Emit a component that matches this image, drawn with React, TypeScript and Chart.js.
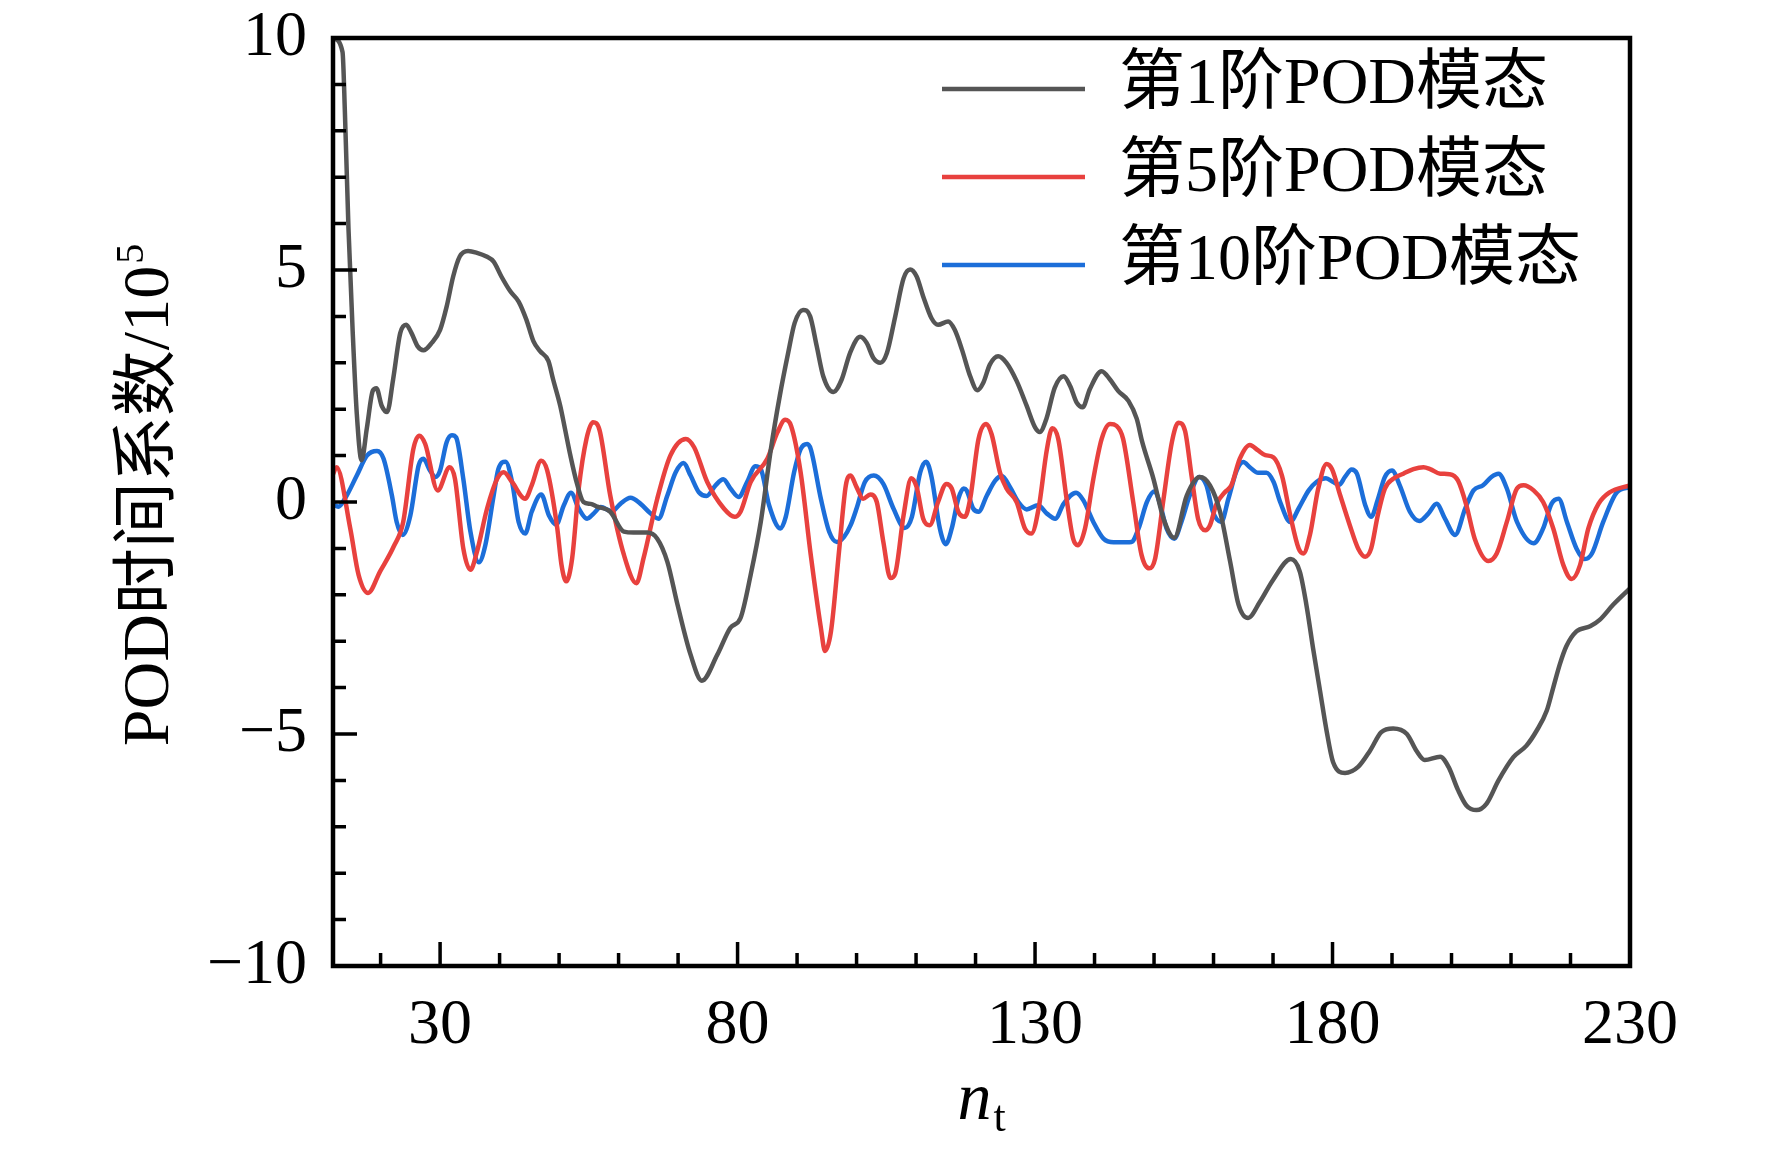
import { useEffect, useRef } from 'react'
import { Chart, registerables, type ChartConfiguration, type Plugin } from 'chart.js'

Chart.register(...registerables)

const seriesLabels = ['第1阶POD模态', '第5阶POD模态', '第10阶POD模态']
const seriesColors = ['#555555', '#e8413e', '#1c6ed9']
const xTickValues = [30, 80, 130, 180, 230]
const yTickValues = [-10, -5, 0, 5, 10]

// 第1阶
const mode1X = [
  12, 13.6, 14, 14.6, 15.3, 16, 16.8, 17.7, 18.7, 19.3, 20.2, 21.1, 22.1, 23.3, 24.3, 25.2, 26.2, 27.2,
  28.6, 30, 31.1, 32.2, 33.3, 34.7, 36.2, 37.8, 39, 40.3, 41.8, 43.2, 44.5, 45.7, 46.8, 48.2, 49, 50.2,
  51, 51.9, 53, 54.1, 55.3, 56.4, 58.6, 60.9, 62.5, 64.8, 66.5, 68.2, 69.9, 72.1, 74, 76.6, 78.8, 80.5,
  82.2, 83.9, 85.6, 87.1, 88.5, 89.6, 91, 92.2, 93.3, 94.4, 96.1, 97.5, 98.9, 100.6, 101.7, 102.8, 104,
  105.1, 106.5, 107.9, 109, 110.1, 111.2, 112.6, 113.7, 115.4, 116.5, 117.7, 119.1, 120.3, 121.3, 122.4,
  123.8, 125.2, 126.9, 128.6, 130, 130.8, 131.9, 133.3, 134.8, 135.9, 137, 138, 139.2, 141.2, 142.6, 144,
  145.7, 147.1, 148, 149.9, 151.6, 153.4, 155.5, 157.7, 159.4, 161.1, 162.8, 164.2, 165.8, 167.8, 170,
  173, 174.5, 175.6, 176.8, 177.9, 179, 180.1, 182.1, 184.3, 186.3, 188.2, 190.2, 192.5, 194.1, 195.5,
  198.1, 199.5, 201.1, 202.5, 204.2, 205.9, 207.9, 210.4, 212.6, 214.3, 216, 217.1, 218.2, 219.3, 221,
  223.3, 224.9, 227.2, 230,
]
const mode1Y = [
  10, 9.7, 8.4, 5.9, 3.7, 1.9, 0.9, 1.6, 2.4, 2.45, 2.07, 1.94, 2.64, 3.64, 3.82, 3.64, 3.36, 3.27,
  3.43, 3.71, 4.21, 4.86, 5.29, 5.41, 5.37, 5.29, 5.18, 4.86, 4.54, 4.32, 3.93, 3.46, 3.25, 3.04, 2.64, 2.07,
  1.57, 1.0, 0.4, 0.0, -0.04, -0.1, -0.21, -0.64, -0.66, -0.66, -0.79, -1.29, -2.21, -3.29, -3.85, -3.29, -2.71, -2.5,
  -1.57, -0.43, 1.14, 2.29, 3.21, 3.86, 4.14, 4.0, 3.36, 2.71, 2.37, 2.64, 3.21, 3.56, 3.43, 3.11, 3.0,
  3.21, 4.0, 4.82, 5.01, 4.86, 4.43, 3.96, 3.82, 3.89, 3.71, 3.29, 2.71, 2.41, 2.57, 2.96,
  3.14, 3.0, 2.61, 2.07, 1.61, 1.51, 1.79, 2.46, 2.71, 2.5, 2.14, 2.04, 2.43, 2.82, 2.64, 2.39,
  2.18, 1.79, 1.3, 0.5, -0.36, -0.77, 0.14, 0.54, 0.36, -0.21, -1.29, -2.21, -2.5, -2.15, -1.68,
  -1.23, -1.5, -2.21, -3.21, -4.07, -4.93, -5.61, -5.84, -5.71, -5.36, -4.96, -4.88, -5.0, -5.36, -5.56,
  -5.49, -5.71, -6.21, -6.54, -6.64, -6.5, -6.0, -5.5, -5.25, -4.93, -4.5, -4.0, -3.5, -3.11, -2.79,
  -2.68, -2.54, -2.21, -1.86,
]

// 第5阶
const mode5X = [
  12, 12.6, 14.9, 16.3, 17.9, 19.9, 22.2, 23.8, 25.5, 26.5, 27.5, 29.6, 31.6, 32.5, 33.9, 35.1, 36.2,
  37.9, 39.6, 40.7, 42.1, 44.3, 45.4, 47, 48, 49.7, 50.4, 51.2, 52.2, 53.3, 54.6, 55.7, 56.8, 58.6, 60.9,
  63, 64.2, 66.5, 68.7, 71.3, 72.7, 74.9, 77.7, 79.5, 80.5, 82.2, 85, 86.7, 88, 89, 90.6, 92.3, 94, 94.7,
  95.7, 97.1, 98.2, 99, 100, 101.1, 102.3, 103.4, 104.5, 105.7, 106.5, 107.9, 109.2, 110.1, 111.2, 112.3,
  113.7, 115.1, 116, 117.1, 118.2, 119.1, 120.5, 121.8, 122.7, 124.1, 125.2, 126.9, 128.3, 129.4, 130.6,
  132, 132.9, 133.9, 135.3, 136.4, 137.2, 138.4, 139.8, 141.2, 142.6, 143.7, 144.8, 146.5, 147.9, 149.2,
  150.2, 151.6, 153, 154.1, 155.2, 156.3, 157.4, 158.6, 159.4, 160.5, 161.9, 163, 164.4, 166.1, 167.5,
  168.7, 170.1, 171.5, 172.9, 174.3, 175.1, 176.2, 177.6, 179, 179.9, 181.3, 182.9, 184.3, 185.5, 186.5,
  187.6, 188.8, 190.2, 191.9, 193.6, 195.3, 196.4, 198.1, 199.7, 201.1, 202.5, 203.9, 206.2, 207.6, 209.3,
  211, 212.1, 213.8, 215.4, 217.1, 218.8, 220.2, 221.6, 223, 224.7, 226.6, 230,
]
const mode5Y = [
  0.6, 0.75, -0.57, -1.57, -1.96, -1.5, -0.96, -0.43, 1.14, 1.43, 1.25, 0.25, 0.75, 0.5, -1.0, -1.46, -1.07,
  -0.14, 0.5, 0.64, 0.43, 0.07, 0.36, 0.89, 0.68, -0.57, -1.35, -1.71, -1.21, 0.29, 1.36, 1.72, 1.55, 0.14, -1.14,
  -1.75, -1.21, 0.07, 1.0, 1.36, 1.18, 0.43, -0.14, -0.32, -0.21, 0.43, 0.93, 1.5, 1.77, 1.64, 0.64, -1.14, -2.71, -3.21,
  -2.79, -1.0, 0.36, 0.57, 0.32, 0.07, 0.16, 0.0, -0.86, -1.64, -1.54, -0.29, 0.51, 0.32, -0.36, -0.5,
  0.0, 0.39, 0.29, -0.21, -0.32, 0.07, 1.36, 1.68, 1.46, 0.64, 0.29, 0.0, -0.57, -0.68, -0.14,
  1.14, 1.59, 1.36, 0.07, -0.79, -0.93, -0.57, 0.5, 1.36, 1.68, 1.64, 1.36, 0.0, -1.14, -1.43,
  -1.21, 0.07, 1.29, 1.71, 1.54, 0.57, -0.36, -0.61, -0.5, -0.04, 0.21, 0.36, 0.93, 1.23, 1.11,
  1.01, 0.96, 0.57, -0.29, -1.0, -1.11, -0.71, 0.29, 0.82, 0.71, 0.14, -0.5, -1.0, -1.18, -1.0,
  -0.29, 0.29, 0.5, 0.61, 0.71, 0.75, 0.71, 0.61, 0.6, 0.46, -0.07, -0.79, -1.27, -1.11, -0.43,
  0.29, 0.36, 0.25, 0.0, -0.57, -1.36, -1.66, -1.36, -0.57, -0.04, 0.21, 0.36,
]

// 第10阶
const mode10X = [
  12, 12.9, 14, 16, 17.7, 19.4, 20.5, 21.9, 22.7, 23.7, 25, 26.4, 27.2, 28.3, 29.2, 30, 31.1, 32, 32.7,
  33.9, 35.1, 36.5, 37.6, 39, 39.8, 41, 42.1, 43.2, 44.3, 45.4, 47, 48.3, 49.5, 50.8, 52, 53.3, 54.7,
  55.8, 57, 58.9, 60.3, 62, 63.7, 65.4, 66.7, 68.2, 69.6, 70.9, 72.1, 73.5, 74.8, 76.3, 77.6, 78.8, 80.2,
  81.6, 83, 83.9, 85.3, 87.2, 88.1, 89.5, 90.6, 91.7, 92.3, 94, 95.4, 96.7, 97.9, 99, 100, 101.4, 102.9,
  104.5, 106.2, 108.1, 109.3, 110.7, 111.7, 112.6, 114, 115, 116, 117.1, 118, 118.5, 119.6, 120.5, 121.9,
  123.3, 124.4, 125.8, 127.2, 128.6, 130.5, 132, 133.4, 134.8, 136.9, 138.1, 139.8, 141.5, 143.2, 144.3,
  146.2, 147.4, 148.8, 150.1, 151, 152.1, 153.4, 154.6, 156, 157.6, 158.8, 159.9, 161.3, 162.5, 163.9,
  165, 166.1, 167.5, 168.9, 170.1, 171.2, 172.9, 174.3, 176, 177.3, 178.9, 180.1, 181.1, 182.1, 183.2,
  184.1, 185.5, 186.5, 187.6, 188.8, 190, 191.3, 193, 194.6, 196.1, 197.5, 198.9, 200.6, 202.3, 203.7,
  205.3, 206.7, 207.9, 209.3, 211, 213.8, 215.4, 216.8, 218, 219.4, 221, 222.4, 223.6, 225.5, 227.8, 230,
]
const mode10Y = [
  -0.05, -0.1, 0.07, 0.57, 1.0, 1.1, 0.93, 0.14, -0.43, -0.71, -0.29, 0.79, 0.93, 0.68, 0.54, 0.68, 1.29, 1.44, 1.39,
  0.5, -0.64, -1.3, -0.93, 0.14, 0.71, 0.87, 0.43, -0.43, -0.68, -0.21, 0.16, -0.29, -0.49, -0.07, 0.2, -0.14, -0.36,
  -0.25, -0.11, -0.2, -0.04, 0.09, -0.04, -0.25, -0.36, 0.14, 0.64, 0.84, 0.57, 0.21, 0.13, 0.36, 0.49, 0.29, 0.11,
  0.43, 0.77, 0.71, -0.07, -0.57, -0.32, 0.64, 1.14, 1.25, 1.14, 0.07, -0.64, -0.86, -0.75, -0.5, -0.14, 0.43, 0.57,
  0.39, -0.14, -0.56, -0.32, 0.64, 0.87, 0.54, -0.57, -0.91, -0.57, 0.07, 0.29, 0.25, -0.14, -0.21, 0.14,
  0.46, 0.56, 0.32, 0.0, -0.16, -0.07, -0.25, -0.36, -0.04, 0.2, 0.04, -0.43, -0.79, -0.87, -0.87,
  -0.86, -0.57, 0.0, 0.23, -0.04, -0.57, -0.79, -0.43, 0.14, 0.54, 0.36, -0.21, -0.43, 0.07, 0.68,
  0.86, 0.75, 0.63, 0.63, 0.43, 0.0, -0.43, -0.14, 0.25, 0.43, 0.51, 0.43, 0.37, 0.54, 0.7,
  0.61, -0.07, -0.32, 0.05, 0.54, 0.68, 0.36, -0.21, -0.41, -0.25, -0.04, -0.36, -0.71, -0.14, 0.25,
  0.36, 0.54, 0.61, 0.29, -0.43, -0.89, -0.57, -0.04, 0.07, -0.43, -1.0, -1.23, -1.11, -0.43, 0.21, 0.32,
]

const fontStack = '"Liberation Serif", "Times New Roman", "Noto Sans CJK SC", serif'

const toPoints = (xs: number[], ys: number[]) => xs.map((x, i) => ({ x, y: ys[i] }))

const isMajor = (v: number, majors: number[]) => majors.some((m) => Math.abs(m - v) < 1e-6)

// frame + inward ticks, legend and axis titles
const decorPlugin: Plugin<'line'> = {
  id: 'decor',
  afterDatasetsDraw(chart) {
    const { ctx, chartArea: a } = chart
    const xs = chart.scales.x
    const ys = chart.scales.y
    ctx.save()

    ctx.strokeStyle = '#000'
    ctx.lineWidth = 4.5
    ctx.strokeRect(a.left, a.top, a.right - a.left, a.bottom - a.top)

    ctx.lineWidth = 3.5
    ctx.beginPath()
    for (let v = ys.min; v <= ys.max; v += 1) {
      const py = ys.getPixelForValue(v)
      const len = isMajor(v, yTickValues) ? 24 : 13
      ctx.moveTo(a.left, py)
      ctx.lineTo(a.left + len, py)
    }
    for (let v = 20; v < xs.max; v += 10) {
      const px = xs.getPixelForValue(v)
      const len = isMajor(v, xTickValues) ? 24 : 13
      ctx.moveTo(px, a.bottom)
      ctx.lineTo(px, a.bottom - len)
    }
    ctx.stroke()

    // legend
    const rows = [89, 177, 265]
    chart.data.datasets.forEach((ds, i) => {
      ctx.strokeStyle = ds.borderColor as string
      ctx.lineWidth = 4.5
      ctx.beginPath()
      ctx.moveTo(942, rows[i])
      ctx.lineTo(1085, rows[i])
      ctx.stroke()
      ctx.fillStyle = '#000'
      ctx.font = `66px ${fontStack}`
      ctx.textBaseline = 'middle'
      ctx.textAlign = 'left'
      ctx.fillText(ds.label ?? '', 1119, rows[i] - 3)
    })

    // y title
    ctx.save()
    ctx.translate(168, 495)
    ctx.rotate(-Math.PI / 2)
    ctx.textBaseline = 'alphabetic'
    ctx.textAlign = 'left'
    ctx.font = `66px ${fontStack}`
    const main = 'POD时间系数/10'
    const wMain = ctx.measureText(main).width
    ctx.font = `40px ${fontStack}`
    const wSup = ctx.measureText('5').width
    const start = -(wMain + wSup + 2) / 2
    ctx.font = `66px ${fontStack}`
    ctx.fillText(main, start, 0)
    ctx.font = `40px ${fontStack}`
    ctx.fillText('5', start + wMain + 2, -25)
    ctx.restore()

    // x title
    ctx.textBaseline = 'alphabetic'
    ctx.textAlign = 'left'
    ctx.font = `italic 68px ${fontStack}`
    const wn = ctx.measureText('n').width
    ctx.font = `44px ${fontStack}`
    const wt = ctx.measureText('t').width
    const cx = (a.left + a.right) / 2
    const sx = cx - (wn + wt + 2) / 2
    ctx.font = `italic 68px ${fontStack}`
    ctx.fillText('n', sx, 1119)
    ctx.font = `44px ${fontStack}`
    ctx.fillText('t', sx + wn + 2, 1131)

    ctx.restore()
  },
}

const chartConfig: ChartConfiguration<'line'> = {
  type: 'line',
  data: {
    datasets: [
      { label: seriesLabels[0], data: toPoints(mode1X, mode1Y), borderColor: seriesColors[0] },
      { label: seriesLabels[1], data: toPoints(mode5X, mode5Y), borderColor: seriesColors[1] },
      { label: seriesLabels[2], data: toPoints(mode10X, mode10Y), borderColor: seriesColors[2] },
    ],
  },
  options: {
    responsive: true,
    maintainAspectRatio: false,
    animation: false,
    devicePixelRatio: 1,
    layout: {
      padding: { left: 190, top: 38, right: 142, bottom: 85 },
    },
    elements: {
      point: { radius: 0 },
      line: { borderWidth: 4.5, cubicInterpolationMode: 'monotone' },
    },
    plugins: {
      legend: { display: false },
      tooltip: { enabled: false },
    },
    scales: {
      x: {
        type: 'linear',
        min: 12,
        max: 230,
        grid: { display: false, drawTicks: false },
        border: { display: false },
        afterBuildTicks: (scale) => {
          scale.ticks = xTickValues.map((value) => ({ value }))
        },
        afterFit: (scale) => {
          scale.height = 100
          scale.paddingLeft = 0
          scale.paddingRight = 0
        },
        ticks: {
          padding: 22,
          color: '#000',
          maxRotation: 0,
          font: { family: fontStack, size: 64 },
        },
      },
      y: {
        type: 'linear',
        min: -10,
        max: 10,
        grid: { display: false, drawTicks: false },
        border: { display: false },
        afterBuildTicks: (scale) => {
          scale.ticks = yTickValues.map((value) => ({ value }))
        },
        afterFit: (scale) => {
          scale.width = 143
          scale.paddingTop = 0
          scale.paddingBottom = 0
        },
        ticks: {
          padding: 26,
          color: '#000',
          font: { family: fontStack, size: 64 },
          callback: (value) => {
            const v = Number(value)
            return v < 0 ? '\u2212' + Math.abs(v) : String(v)
          },
        },
      },
    },
  },
  plugins: [decorPlugin],
}

export default function App() {
  const canvasRef = useRef<HTMLCanvasElement | null>(null)

  useEffect(() => {
    document.body.style.margin = '0'
    if (!canvasRef.current) {
      return
    }
    const chart = new Chart(canvasRef.current, chartConfig)
    return () => {
      chart.destroy()
    }
  }, [])

  return (
    <div style={{ width: 1772, height: 1151, position: 'relative', background: '#fff' }}>
      <canvas ref={canvasRef} aria-label="POD时间系数曲线" />
    </div>
  )
}
